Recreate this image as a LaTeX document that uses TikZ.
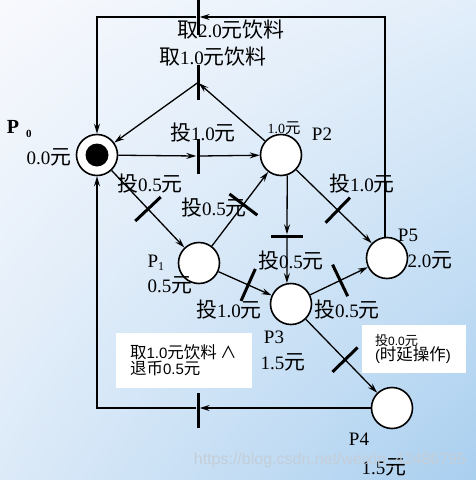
\documentclass[tikz,border=0pt]{standalone}
\usepackage{fontspec}
\setmainfont{Liberation Serif}
\newfontfamily\cj[Scale=1.1]{Noto Sans CJK SC}
\newfontfamily\asans{Liberation Sans}
\usetikzlibrary{arrows.meta,calc,shadings}
\definecolor{bgTL}{RGB}{248,249,253}
\definecolor{bgTR}{RGB}{226,238,250}
\definecolor{bgBL}{RGB}{220,234,248}
\definecolor{bgBR}{RGB}{169,207,239}
\definecolor{wmark}{RGB}{196,206,216}
\newcommand{\zh}[1]{{\cj #1}}
\begin{document}
\begin{tikzpicture}[x=1pt,y=-1pt,
  place/.style={circle,draw,line width=1.6pt,fill=white,minimum size=41pt,inner sep=0pt},
  tbar/.style={rectangle,fill=black,draw=none,inner sep=0pt,minimum width=3pt,minimum height=35pt},
  tbarh/.style={rectangle,fill=black,draw=none,inner sep=0pt,minimum width=32pt,minimum height=3pt},
  arc/.style={line width=1.3pt,-{Stealth[length=10pt,width=6pt,inset=3.5pt]}},
  lab/.style={inner sep=0pt,font=\fontsize{19}{19}\selectfont},
  small/.style={inner sep=0pt,font=\fontsize{14}{14}\selectfont},
  wbox/.style={fill=white,draw=none,inner ysep=0pt,align=left}
]
\useasboundingbox (0,0) rectangle (476,480);
\shade[upper left=bgTL,upper right=bgTR,lower left=bgBL,lower right=bgBR] (0,0) rectangle (476,480);

% places
\node[place] (p0) at (97,155) {};
\node[circle,fill=black,minimum size=23pt,inner sep=0pt] (p0dot) at (p0) {};
\node[place] (p2) at (281,155) {};
\node[place] (p1) at (199,263) {};
\node[place] (p3) at (291,304) {};
\node[place] (p5) at (387,258) {};
\node[place] (p4) at (392,408) {};

% transitions
\node[tbar] (tT) at (198,17) {};
\node[tbar] (tM) at (198,82.5) {};
\node[tbar] (tA) at (198,156) {};
\node[tbarh] (tB) at (287,236) {};
\node[tbar] (tBot) at (198,410.5) {};
\path (p0) -- node[tbar,sloped,pos=0.5] (tC) {} (p1);
\path (p1) -- node[tbar,sloped,pos=0.56] (tD) {} (p2);
\path (p2) -- node[tbar,sloped,pos=0.55] (tE) {} (p5);
\path (p1) -- node[tbar,sloped,pos=0.56] (tF) {} (p3);
\path (p3) -- node[tbar,sloped,pos=0.52] (tG) {} (p5);
\path (p3) -- node[tbar,sloped,pos=0.55] (tH) {} (p4);

% arcs
\draw[arc] (p5.95) |- (tT.east);
\draw[arc] (tT.west) -| (p0.north);
\draw[arc,shorten >=1pt] (p2) -- (tM.center);
\draw[arc] (tM.center) -- (p0);
\draw[arc] (p0) -- (tA.west);
\draw[arc] (tA.east) -- (p2);
\draw[arc] (p2.-73) -- (tB.north);
\draw[arc] (tB.south) -- (p3.101);
\draw[arc] (p0) -- (p1);
\draw[arc] (p1) -- (p2);
\draw[arc] (p2) -- (p5);
\draw[arc] (p1) -- (p3);
\draw[arc] (p3) -- (p5);
\draw[arc] (p3) -- (p4);
\draw[arc] (p4.west) -- (p4.west -| tBot.east);
\draw[arc] (p4.west -| tBot.west) -| (p0.south);

% labels
\node[lab] (l1) at (231,30) {\zh{取}2.0\zh{元饮料}};
\node[lab] (l2) at (213,57) {\zh{取}1.0\zh{元饮料}};
\node[lab] (l3) at (203,133) {\zh{投}1.0\zh{元}};
\node[small] (l4) at (284,128) {1.0\zh{元}};
\node[lab] (l5) at (322,134) {P2};
\node[inner sep=0pt,font=\fontsize{20}{20}\selectfont\bfseries] (lp0) at (13,127) {P};
\node[inner sep=0pt,font=\fontsize{11}{11}\selectfont\bfseries] (lp0s) at (29,134) {0};
\node[lab] (l6) at (49,157) {0.0\zh{元}};
\node[lab] (l7) at (150,184) {\zh{投}0.5\zh{元}};
\node[lab] (l8) at (214,208) {\zh{投}0.5\zh{元}};
\node[lab] (l9) at (362,184) {\zh{投}1.0\zh{元}};
\node[lab] (l10) at (408,235) {P5};
\node[lab] (l11) at (430,260) {2.0\zh{元}};
\node[lab] (lp1) at (153,261) {P};
\node[inner sep=0pt,font=\fontsize{12}{12}\selectfont] (lp1s) at (161,267) {1};
\node[lab] (l12) at (170,285) {0.5\zh{元}};
\node[lab] (l13) at (291,261) {\zh{投}0.5\zh{元}};
\node[lab] (l14) at (229,310) {\zh{投}1.0\zh{元}};
\node[lab] (l15) at (347,310) {\zh{投}0.5\zh{元}};
\node[lab] (l16) at (274,337) {P3};
\node[lab] (l17) at (283,362) {1.5\zh{元}};
\node[lab] (l18) at (359,439) {P4};
\node[lab] (l19) at (384,467) {1.5\zh{元}};

% boxes
\node[wbox,minimum width=136pt,minimum height=55pt,inner xsep=14pt,text width=108pt] (b1) at (184,360.5)
  {\asans\fontsize{15}{19}\selectfont\zh{取}1.0\zh{元饮料 ∧}\\\zh{退币}0.5\zh{元}};
\node[wbox,minimum width=104pt,minimum height=48pt,inner xsep=13pt,text width=78pt] (b2) at (414,349)
  {\asans\fontsize{12}{17}\selectfont\zh{投}0.0\zh{元}\\\fontsize{15}{17}\selectfont(\zh{时延操作})};

% watermark
\node[inner sep=0pt,text=wmark,font=\asans\fontsize{16}{16}\selectfont] (wm) at (330,460) {https://blog.csdn.net/weixin\_42486795};
\end{tikzpicture}
\end{document}
